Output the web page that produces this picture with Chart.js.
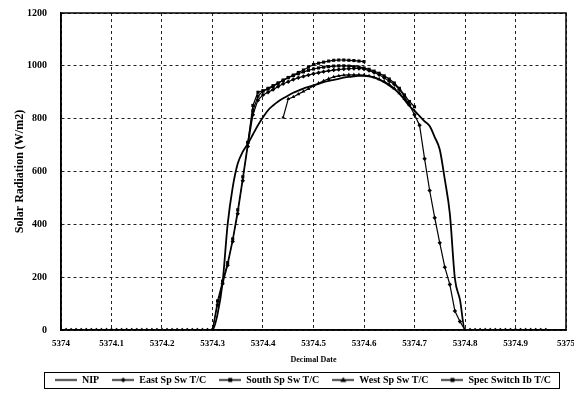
<!DOCTYPE html>
<html>
<head>
<meta charset="utf-8">
<script src="https://cdn.jsdelivr.net/npm/chart.js@4"></script>
<style>
  html, body { margin: 0; padding: 0; background: #fff; }
  canvas { display: block; }
</style>
</head>
<body>
<canvas id="chart_1" width="574" height="393"></canvas>
<script>
const ct_1 = document.getElementById("chart_1");

// decimal dates of the readings
const dates = [
  5374.00, 5374.01, 5374.02, 5374.03, 5374.04, 5374.05, 5374.06, 5374.07, 5374.08, 5374.09,
  5374.10, 5374.11, 5374.12, 5374.13, 5374.14, 5374.15, 5374.16, 5374.17, 5374.18, 5374.19,
  5374.20, 5374.21, 5374.22, 5374.23, 5374.24, 5374.25, 5374.26, 5374.27, 5374.28, 5374.29,
  5374.30, 5374.31, 5374.32, 5374.33, 5374.34, 5374.35, 5374.36, 5374.37, 5374.38, 5374.39,
  5374.40, 5374.41, 5374.42, 5374.43, 5374.44, 5374.45, 5374.46, 5374.47, 5374.48, 5374.49,
  5374.50, 5374.51, 5374.52, 5374.53, 5374.54, 5374.55, 5374.56, 5374.57, 5374.58, 5374.59,
  5374.60, 5374.61, 5374.62, 5374.63, 5374.64, 5374.65, 5374.66, 5374.67, 5374.68, 5374.69,
  5374.70, 5374.71, 5374.72, 5374.73, 5374.74, 5374.75, 5374.76, 5374.77, 5374.78, 5374.79,
  5374.80, 5374.81, 5374.82, 5374.83, 5374.84, 5374.85, 5374.86, 5374.87, 5374.88, 5374.89,
  5374.90, 5374.91, 5374.92, 5374.93, 5374.94, 5374.95, 5374.96
];

const nip = [
  0, 0, 0, 0, 0, 0, 0, 0, 0, 0,
  0, 0, 0, 0, 0, 0, 0, 0, 0, 0,
  0, 0, 0, 0, 0, 0, 0, 0, 0, 0,
  0, 60, 180, 400, 540, 630, 675, 705, 740, 775,
  805, 832, 850, 865, 877, 888, 898, 906, 914, 920,
  926, 932, 938, 943, 947, 951, 955, 958, 960, 962,
  962, 960, 955, 948, 938, 926, 912, 895, 872, 848,
  830, 810, 790, 772, 730, 683, 570, 440, 195, 115,
  0, 0, 0, 0, 0, 0, 0, 0, 0, 0,
  0, 0, 0, 0, 0, 0, 0
];

const east = [
  0, 0, 0, 0, 0, 0, 0, 0, 0, 0,
  0, 0, 0, 0, 0, 0, 0, 0, 0, 0,
  0, 0, 0, 0, 0, 0, 0, 0, 0, 0,
  0, 95, 175, 245, 335, 440, 565, 695, 815, 870,
  890, 900, 910, 922, 932, 940, 948, 955, 960, 965,
  970, 974, 978, 981, 984, 986, 988, 989, 990, 990,
  988, 982, 975, 966, 955, 942, 930, 910, 885, 852,
  815, 775, 648, 528, 425, 330, 238, 172, 72, 32,
  0, 0, 0, 0, 0, 0, 0, 0, 0, 0,
  0, 0, 0, 0, 0, 0, 0
];

// partial series: first reading index + values
const southFrom = 30;
const south = [
  0, 110, 185, 255, 345, 455, 580, 710, 830, 885,
  905, 915, 925, 935, 945, 955, 963, 970, 977, 983,
  988, 992, 995, 997, 999, 1000, 1000, 999, 997, 995,
  992, 987, 980, 972, 962, 950, 935, 915, 890, 865,
  845
];

const westFrom = 44;
const west = [
  805, 875, 882, 893, 903, 913, 924, 934, 943, 951,
  958, 962, 965, 966, 966, 966, 965, 962, 957, 950,
  941, 930, 915, 897, 875, 852
];

const specFrom = 37;
const spec = [
  710, 850, 900, 905, 912, 922, 934, 946, 956, 965,
  975, 984, 995, 1005, 1010, 1014, 1018, 1021, 1022, 1022,
  1021, 1020, 1018, 1016
];

const seriesNames = ["NIP", "East Sp Sw T/C", "South Sp Sw T/C", "West Sp Sw T/C", "Spec Switch Ib T/C"];
const yTicks = [0, 200, 400, 600, 800, 1000, 1200];

const pts = (vals, from) => vals.map((v, i) => ({ x: dates[from + i], y: v }));

const serif = "'Liberation Serif', 'DejaVu Serif', serif";

// little legend samples: a line with the marker on it
function legendIcon(style) {
  const c = document.createElement("canvas");
  c.width = 22;
  c.height = 9;
  const g = c.getContext("2d");
  g.strokeStyle = "#000";
  g.fillStyle = "#000";
  g.lineWidth = 1.5;
  g.beginPath();
  g.moveTo(0, 4.5);
  g.lineTo(22, 4.5);
  g.stroke();
  g.beginPath();
  if (style === "rectRot") {
    g.moveTo(11, 2); g.lineTo(13.5, 4.5); g.lineTo(11, 7); g.lineTo(8.5, 4.5);
  } else if (style === "rect") {
    g.rect(9, 2.5, 4, 4);
  } else if (style === "triangle") {
    g.moveTo(11, 1.5); g.lineTo(14, 6.5); g.lineTo(8, 6.5);
  }
  g.closePath();
  g.fill();
  return c;
}

const markers = [false, "rectRot", "rect", "triangle", "rect"];

const framePlugin = {
  id: "frame",
  afterLayout(chart) {
    // move the legend row to where the boxed legend sits
    const lg = chart.legend;
    lg.left += 20;
    lg.right += 20;
    lg.top = 362;
    lg.bottom = 393;
    lg.height = 31;
  },
  afterDatasetsDraw(chart) {
    const a = chart.chartArea;
    const ctx = chart.ctx;
    ctx.save();
    ctx.strokeStyle = "#000";
    ctx.lineWidth = 1.5;
    ctx.strokeRect(a.left, a.top, a.right - a.left, a.bottom - a.top);
    ctx.restore();
  },
  afterDraw(chart) {
    const ctx = chart.ctx;
    ctx.save();
    ctx.strokeStyle = "#000";
    ctx.lineWidth = 1;
    ctx.strokeRect(44.5, 372.5, 515, 16);
    ctx.restore();
  }
};

const lineSet = (label, data, style) => ({
  label: label,
  data: data,
  borderColor: "#000",
  backgroundColor: "#000",
  pointBackgroundColor: "#000",
  pointBorderColor: "#000",
  borderWidth: style ? 1.2 : 1.8,
  pointRadius: style ? 2.2 : 0,
  pointBorderWidth: 0,
  pointStyle: style || "circle",
  cubicInterpolationMode: style ? "default" : "monotone",
  tension: style ? 0 : 0.4,
  fill: false
});

const config_1 = {
  type: "line",
  data: {
    datasets: [
      lineSet(seriesNames[0], pts(nip, 0), false),
      lineSet(seriesNames[1], pts(east, 0), "rectRot"),
      lineSet(seriesNames[2], pts(south, southFrom), "rect"),
      lineSet(seriesNames[3], pts(west, westFrom), "triangle"),
      lineSet(seriesNames[4], pts(spec, specFrom), "rect")
    ]
  },
  options: {
    responsive: false,
    animation: false,
    devicePixelRatio: 1,
    layout: { padding: { left: 0, right: 8, top: 13, bottom: 10 } },
    scales: {
      x: {
        type: "linear",
        min: 5374,
        max: 5375,
        afterFit: (s) => { s.height = 35; s.paddingLeft = 0; s.paddingRight = 0; },
        ticks: {
          stepSize: 0.1,
          padding: 8,
          maxRotation: 0,
          color: "#000",
          font: { family: serif, size: 9, weight: "bold" },
          callback: (v) => String(Math.round(v * 10) / 10)
        },
        grid: { color: "#222", lineWidth: 1, drawTicks: false },
        border: { display: true, color: "#000", width: 1.5, dash: [3, 3] },
        title: {
          display: true,
          text: "Decimal Date",
          color: "#000",
          font: { family: serif, size: 8, weight: "bold" },
          padding: { top: 0, bottom: 0 }
        }
      },
      y: {
        min: 0,
        max: 1200,
        afterFit: (s) => { s.width = 61; s.paddingTop = 0; s.paddingBottom = 0; },
        afterBuildTicks: (s) => { s.ticks = yTicks.map((v) => ({ value: v })); },
        ticks: {
          padding: 14,
          color: "#000",
          font: { family: serif, size: 10, weight: "bold" },
          callback: (v) => String(v)
        },
        grid: { color: "#222", lineWidth: 1, drawTicks: false },
        border: { display: true, color: "#000", width: 1.5, dash: [3, 3] },
        title: {
          display: true,
          text: "Solar Radiation (W/m2)",
          color: "#000",
          font: { family: serif, size: 12, weight: "bold" },
          padding: { top: 13, bottom: 0 }
        }
      }
    },
    plugins: {
      tooltip: { enabled: false },
      legend: {
        position: "bottom",
        maxHeight: 18,
        labels: {
          usePointStyle: true,
          pointStyleWidth: 22,
          boxHeight: 9,
          padding: 13,
          color: "#000",
          font: { family: serif, size: 10, weight: "bold" },
          generateLabels: (chart) => chart.data.datasets.map((ds, i) => ({
            text: ds.label,
            pointStyle: legendIcon(markers[i]),
            fillStyle: "#000",
            strokeStyle: "#000",
            lineWidth: 0,
            hidden: false,
            datasetIndex: i,
            fontColor: "#000"
          }))
        }
      }
    }
  },
  plugins: [framePlugin]
};

new Chart(ct_1, config_1);
</script>
</body>
</html>
